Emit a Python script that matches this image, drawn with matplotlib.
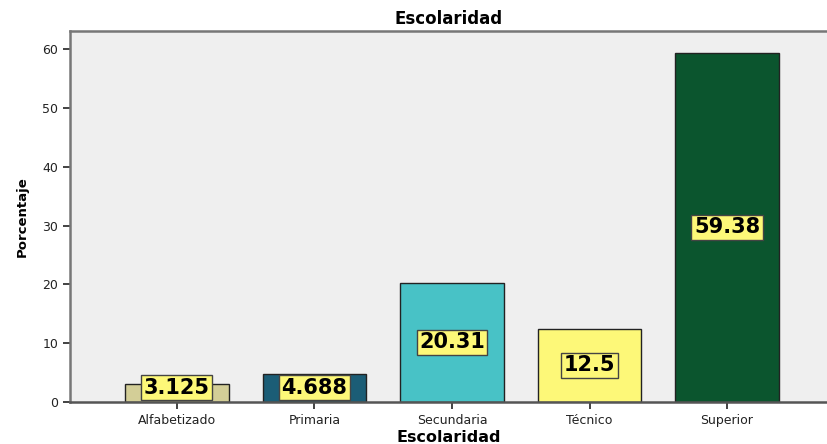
import matplotlib
matplotlib.use("Agg")
import matplotlib.pyplot as plt

categories = ["Alfabetizado", "Primaria", "Secundaria", "Técnico", "Superior"]
values = [3.125, 4.688, 20.31, 12.5, 59.38]
labels = ["3.125", "4.688", "20.31", "12.5", "59.38"]
colors = ["#d3ce97", "#1b5d76", "#48c2c6", "#fdf878", "#0b552e"]

plt.rcParams['font.family'] = ['DejaVu Sans']

fig = plt.figure(figsize=(8.27, 4.44), dpi=100)
ax = fig.add_axes([70 / 827, 42 / 444, 757 / 827, 371 / 444])
ax.set_facecolor("#efefef")

x = range(len(categories))
ax.bar(x, values, width=0.75, color=colors, edgecolor="#222222", linewidth=1, zorder=2)

for i, (v, t) in enumerate(zip(values, labels)):
    ax.text(i, max(v / 2, 2.4), t, ha="center", va="center", fontsize=15, fontweight="bold",
            zorder=3,
            bbox=dict(boxstyle="square,pad=0.12", facecolor="#fdf878", edgecolor="#444444", linewidth=1))

ax.set_xlim(-0.778, 4.727)
ax.set_ylim(0, 63.1)
ax.set_xticks(list(x))
ax.set_xticklabels(categories, fontsize=9)
ax.set_yticks(range(0, 61, 10))
ax.tick_params(axis="y", labelsize=9, length=5, width=1.2, colors="#222222")
ax.tick_params(axis="x", length=5, width=1.2, colors="#222222")

for s in ["left", "top", "bottom"]:
    ax.spines[s].set_color("#777777")
    ax.spines[s].set_linewidth(1.8)
ax.spines["bottom"].set_color("#555555")
ax.spines["right"].set_visible(False)

ax.set_title("Escolaridad", fontsize=12, fontweight="bold", pad=5)
ax.set_xlabel("Escolaridad", fontsize=11.5, fontweight="bold", labelpad=2)
ax.set_ylabel("Porcentaje", fontsize=9.5, fontweight="bold", labelpad=10)

fig.savefig("out.png", dpi=100)
